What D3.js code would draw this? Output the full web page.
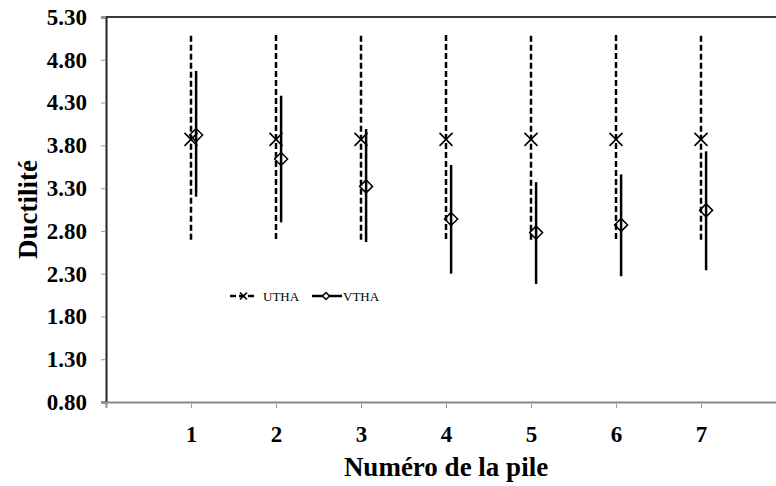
<!DOCTYPE html>
<html>
<head>
<meta charset="utf-8">
<script src="https://cdn.jsdelivr.net/npm/d3@7"></script>
<style>
  body { margin: 0; background: #fff; }
  svg { display: block; }
</style>
</head>
<body>
<div></div>
<script>
// valori
var piles = [1, 2, 3, 4, 5, 6, 7];
var uthaMean = [3.87, 3.87, 3.87, 3.87, 3.87, 3.87, 3.87];
var uthaMax  = [5.08, 5.09, 5.08, 5.09, 5.08, 5.09, 5.08];
var uthaMin  = [2.67, 2.68, 2.67, 2.68, 2.66, 2.68, 2.67];
var vthaMean = [3.92, 3.64, 3.32, 2.94, 2.78, 2.87, 3.04];
var vthaMax  = [4.67, 4.38, 3.99, 3.57, 3.37, 3.46, 3.73];
var vthaMin  = [3.20, 2.90, 2.67, 2.30, 2.18, 2.27, 2.34];
var vthaShift = 0.06;
var yTicks = [0.8, 1.3, 1.8, 2.3, 2.8, 3.3, 3.8, 4.3, 4.8, 5.3];
var xTicks = [0, 1, 2, 3, 4, 5, 6, 7];

var width = 776;
var height = 486;
// niente "top" globale: window.top non si può riassegnare
var mLeft = 106, mTop = 17, mRight = 786, mBottom = 402;
var fontSerif = "'Liberation Serif', 'Times New Roman', serif";

var svg = d3.select("div")
            .append("svg")
            .attr("width", width)
            .attr("height", height)
            .style("font-family", fontSerif);

var x = d3.scaleLinear().domain([0, 8]).range([mLeft, mRight]);
var y = d3.scaleLinear().domain([0.8, 5.3]).range([mBottom, mTop]);

// bordo superiore
svg.append("line")
   .attr("x1", mLeft).attr("x2", mRight)
   .attr("y1", mTop).attr("y2", mTop)
   .attr("stroke", "#3a3a3a")
   .attr("stroke-width", 2);

// asse y
var gy = svg.append("g")
            .attr("transform", "translate(" + mLeft + ",0)")
            .call(d3.axisLeft(y).tickValues(yTicks).tickSize(5).tickPadding(14)
                    .tickFormat(d3.format(".2f")));
gy.attr("font-family", fontSerif)
  .attr("font-size", 23)
  .attr("font-weight", "bold");
gy.select(".domain").attr("stroke", "#222").attr("stroke-width", 2);
gy.selectAll(".tick line").attr("stroke", "#999");
gy.selectAll("text").attr("fill", "#000");

// asse x
var gx = svg.append("g")
            .attr("transform", "translate(0," + mBottom + ")")
            .call(d3.axisBottom(x).tickValues(xTicks).tickSize(6).tickPadding(18)
                    .tickFormat(function(d) { return d === 0 ? "" : d; }));
gx.attr("font-family", fontSerif)
  .attr("font-size", 23)
  .attr("font-weight", "bold");
gx.select(".domain").attr("stroke", "#888").attr("stroke-width", 2);
gx.selectAll(".tick line").attr("stroke", "#999");
gx.selectAll("text").attr("fill", "#000");

// titoli
svg.append("text")
   .attr("x", (mLeft + mRight) / 2)
   .attr("y", 476)
   .attr("text-anchor", "middle")
   .style("font-size", "27px")
   .style("font-weight", "bold")
   .text("Numéro de la pile");

svg.append("text")
   .attr("transform", "translate(37," + ((mTop + mBottom) / 2) + ") rotate(-90)")
   .attr("text-anchor", "middle")
   .style("font-size", "27px")
   .style("font-weight", "bold")
   .text("Ductilité");

function crossPath(s) {
    return "M" + (-s) + "," + (-s) + "L" + s + "," + s + "M" + (-s) + "," + s + "L" + s + "," + (-s);
}
function diamondPath(s) {
    return "M0," + (-s) + "L" + s + ",0L0," + s + "L" + (-s) + ",0Z";
}

// UTHA
var gU = svg.append("g");
gU.selectAll("line")
  .data(piles)
  .enter()
  .append("line")
  .attr("x1", function(d) { return x(d); })
  .attr("x2", function(d) { return x(d); })
  .attr("y1", function(d, i) { return y(uthaMax[i]); })
  .attr("y2", function(d, i) { return y(uthaMin[i]); })
  .attr("stroke", "#000")
  .attr("stroke-width", 2.5)
  .attr("stroke-dasharray", "6,3");
gU.selectAll("path")
  .data(piles)
  .enter()
  .append("path")
  .attr("transform", function(d, i) { return "translate(" + x(d) + "," + y(uthaMean[i]) + ")"; })
  .attr("d", crossPath(6.5))
  .attr("stroke", "#000")
  .attr("stroke-width", 1.6)
  .attr("fill", "none");

// VTHA
var gV = svg.append("g");
gV.selectAll("line")
  .data(piles)
  .enter()
  .append("line")
  .attr("x1", function(d) { return x(d + vthaShift); })
  .attr("x2", function(d) { return x(d + vthaShift); })
  .attr("y1", function(d, i) { return y(vthaMax[i]); })
  .attr("y2", function(d, i) { return y(vthaMin[i]); })
  .attr("stroke", "#000")
  .attr("stroke-width", 2.5);
gV.selectAll("path")
  .data(piles)
  .enter()
  .append("path")
  .attr("transform", function(d, i) { return "translate(" + x(d + vthaShift) + "," + y(vthaMean[i]) + ")"; })
  .attr("d", diamondPath(6.5))
  .attr("stroke", "#000")
  .attr("stroke-width", 1.5)
  .attr("fill", "none");

// legenda
var leg = svg.append("g").attr("transform", "translate(0,296)");
leg.append("line")
   .attr("x1", 230).attr("x2", 257)
   .attr("stroke", "#000").attr("stroke-width", 2.5)
   .attr("stroke-dasharray", "6,3");
leg.append("path")
   .attr("transform", "translate(243.5,0)")
   .attr("d", crossPath(3.5))
   .attr("stroke", "#000").attr("stroke-width", 1.6)
   .attr("fill", "#fff");
leg.append("text")
   .attr("x", 263).attr("y", 4.5)
   .style("font-size", "13px")
   .text("UTHA");
leg.append("line")
   .attr("x1", 312).attr("x2", 342)
   .attr("stroke", "#000").attr("stroke-width", 2.5);
leg.append("path")
   .attr("transform", "translate(326,0)")
   .attr("d", diamondPath(3.5))
   .attr("stroke", "#000").attr("stroke-width", 1.5)
   .attr("fill", "#fff");
leg.append("text")
   .attr("x", 343).attr("y", 4.5)
   .style("font-size", "13px")
   .text("VTHA");
</script>
</body>
</html>
